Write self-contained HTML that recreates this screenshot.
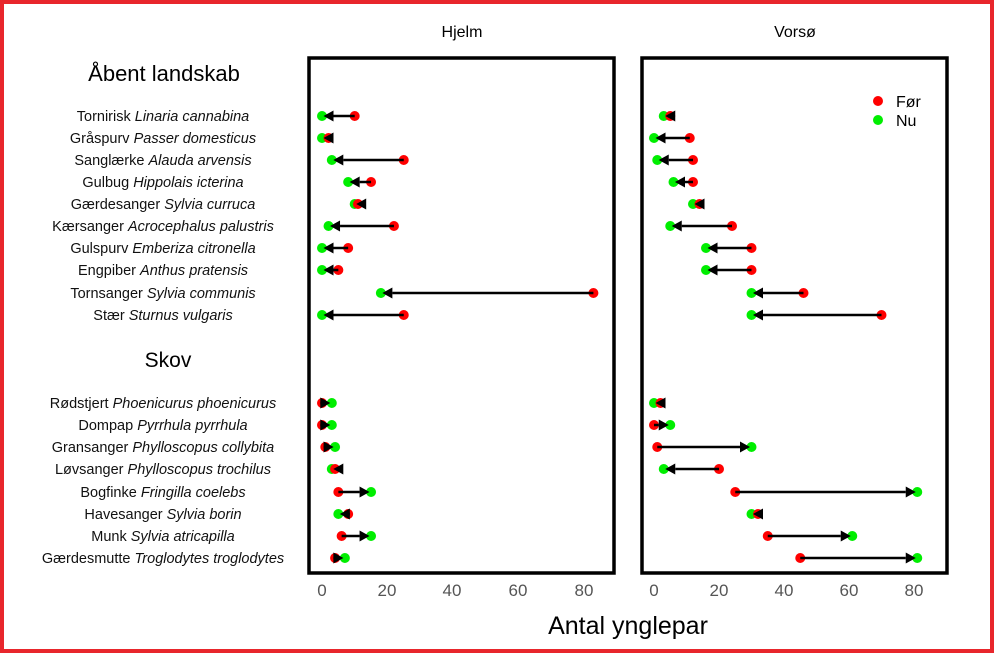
<!DOCTYPE html>
<html><head><meta charset="utf-8"><style>
body{margin:0;background:#fff}
svg{display:block;font-family:"Liberation Sans",Arial,sans-serif}
</style></head><body>
<svg width="994" height="653" viewBox="0 0 994 653" xmlns="http://www.w3.org/2000/svg">
<rect x="2" y="2" width="990" height="649" fill="#fff" stroke="#e8262c" stroke-width="4"/>
<text x="462" y="37" font-size="16" text-anchor="middle">Hjelm</text>
<text x="795" y="37" font-size="16" text-anchor="middle">Vorsø</text>
<rect x="309" y="58" width="305" height="515" fill="none" stroke="#000" stroke-width="3.5"/>
<rect x="642" y="58" width="305" height="515" fill="none" stroke="#000" stroke-width="3.5"/>
<text x="164" y="81" font-size="22" text-anchor="middle">Åbent landskab</text>
<text x="168" y="367" font-size="21" text-anchor="middle">Skov</text>
<g font-size="14.5" text-anchor="middle" fill="#111" id="labels"></g>
<g font-size="17" fill="#555" text-anchor="middle">
<text x="322" y="596">0</text><text x="387" y="596">20</text><text x="452" y="596">40</text><text x="518" y="596">60</text><text x="584" y="596">80</text>
<text x="654" y="596">0</text><text x="719" y="596">20</text><text x="784" y="596">40</text><text x="849" y="596">60</text><text x="914" y="596">80</text>
</g>
<text x="628" y="634" font-size="25" text-anchor="middle">Antal ynglepar</text>
<circle cx="878" cy="101" r="5" fill="#ff0000"/><text x="896" y="107" font-size="16">Før</text>
<circle cx="878" cy="120" r="5" fill="#00ee00"/><text x="896" y="126" font-size="16">Nu</text>
<g id="data"></g>
</svg>
<script>
var names=[["Tornirisk","Linaria cannabina"],["Gråspurv","Passer domesticus"],["Sanglærke","Alauda arvensis"],["Gulbug","Hippolais icterina"],["Gærdesanger","Sylvia curruca"],["Kærsanger","Acrocephalus palustris"],["Gulspurv","Emberiza citronella"],["Engpiber","Anthus pratensis"],["Tornsanger","Sylvia communis"],["Stær","Sturnus vulgaris"],
["Rødstjert","Phoenicurus phoenicurus"],["Dompap","Pyrrhula pyrrhula"],["Gransanger","Phylloscopus collybita"],["Løvsanger","Phylloscopus trochilus"],["Bogfinke","Fringilla coelebs"],["Havesanger","Sylvia borin"],["Munk","Sylvia atricapilla"],["Gærdesmutte","Troglodytes troglodytes"]];
var ys=[116,138,160,182,204,226,248,270,293,315,403,425,447,469,492,514,536,558];
var H=[[10,0],[2,0],[25,3],[15,8],[11,10],[22,2],[8,0],[5,0],[83,18],[25,0],[0,3],[0,3],[1,4],[4,3],[5,15],[8,5],[6,15],[4,7]];
var V=[[5,3],[11,0],[12,1],[12,6],[14,12],[24,5],[30,16],[30,16],[46,30],[70,30],[2,0],[0,5],[1,30],[20,3],[25,81],[32,30],[35,61],[45,81]];
var NS="http://www.w3.org/2000/svg";
var L=document.getElementById("labels"),D=document.getElementById("data");
names.forEach(function(n,i){var t=document.createElementNS(NS,"text");t.setAttribute("x",163);t.setAttribute("y",ys[i]+5);
t.innerHTML=n[0]+' <tspan font-style="italic">'+n[1]+'</tspan>';L.appendChild(t);});
function draw(data,x0,s){data.forEach(function(d,i){var y=ys[i],a=x0+s*d[0],b=x0+s*d[1];var h='';
h+='<circle cx="'+b+'" cy="'+y+'" r="5" fill="#00ee00"/><circle cx="'+a+'" cy="'+y+'" r="5" fill="#ff0000"/>';
var dir=b>=a?1:-1;var tip=b-dir*1.5;var base=tip-dir*10;
if(Math.abs(b-a)>8)h+='<line x1="'+a+'" y1="'+y+'" x2="'+base+'" y2="'+y+'" stroke="#000" stroke-width="2.5"/>';
h+='<polygon points="'+tip+','+y+' '+base+','+(y-5.5)+' '+base+','+(y+5.5)+'" fill="#000"/>';
D.insertAdjacentHTML("beforeend",h);});}
draw(H,322,3.27);draw(V,654,3.25);
</script>
</body></html>
